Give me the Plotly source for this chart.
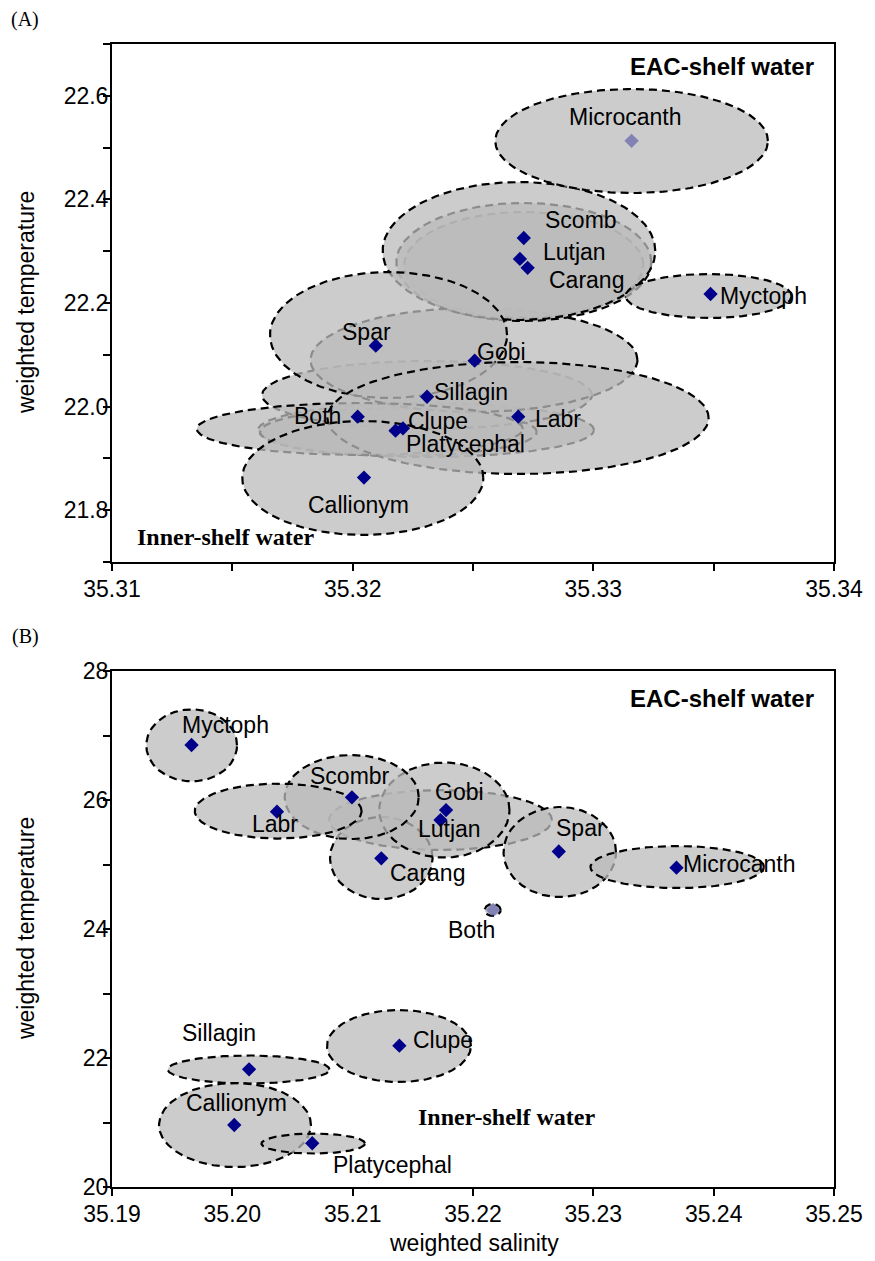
import numpy as np
import plotly.graph_objects as go

# ---------------- Panel A data ----------------
a_species = ["Microcanth", "Scomb", "Lutjan", "Carang", "Myctoph", "Spar", "Gobi",
             "Sillagin", "Both", "Clupe", "Platycephal", "Labr", "Callionym"]
a_sal = [35.33159, 35.32711, 35.32695, 35.32727, 35.33487, 35.32096, 35.32507,
         35.32309, 35.32021, 35.32209, 35.32178, 35.32688, 35.32047]
a_temp = [22.513, 22.3255, 22.285, 22.268, 22.2174, 22.1176, 22.0886,
          22.019, 21.9805, 21.958, 21.9535, 21.9805, 21.863]
a_ell_sal = [35.33159, 35.32691, 35.32711, 35.32711, 35.33479, 35.32149, 35.32504,
             35.32309, 35.3203, 35.32305, 35.3219, 35.32687, 35.32042]
a_ell_temp = [22.5127, 22.3004, 22.2792, 22.2734, 22.2135, 22.1382, 22.09,
              22.0224, 21.9568, 21.9548, 21.951, 21.978, 21.8622]
a_ell_sd_sal = [0.005664, 0.005664, 0.005294, 0.004966, 0.003447, 0.004925, 0.006792,
                0.006854, 0.006772, 0.006977, 0.005746, 0.00792, 0.005007]
a_ell_sd_temp = [0.1004, 0.1332, 0.1139, 0.1023, 0.0425, 0.1216, 0.1004,
                 0.0656, 0.0502, 0.0521, 0.0463, 0.1081, 0.11]
a_xticks = [35.31, 35.315, 35.32, 35.325, 35.33, 35.335, 35.34]
a_xticklabels = ["35.31", "", "35.32", "", "35.33", "", "35.34"]
a_yticks = [21.7, 21.8, 21.9, 22.0, 22.1, 22.2, 22.3, 22.4, 22.5, 22.6, 22.7]
a_yticklabels = ["", "21.8", "", "22.0", "", "22.2", "", "22.4", "", "22.6", ""]

# ---------------- Panel B data ----------------
b_species = ["Myctoph", "Labr", "Scombr", "Carang", "Gobi", "Lutjan", "Spar",
             "Microcanth", "Both", "Clupe", "Sillagin", "Callionym", "Platycephal"]
b_sal = [35.19661, 35.20371, 35.20994, 35.21238, 35.21776, 35.2173, 35.22713,
         35.23691, 35.22167, 35.21388, 35.20139, 35.20016, 35.20664]
b_temp = [26.853, 25.819, 26.042, 25.096, 25.845, 25.69, 25.202,
          24.951, 24.295, 22.191, 21.825, 20.961, 20.678]
b_ell_sal = [35.19662, 35.20381, 35.20992, 35.21238, 35.21762, 35.2173, 35.22721,
             35.23697, 35.22164, 35.21385, 35.20135, 35.20022, 35.20672]
b_ell_temp = [26.848, 25.829, 26.047, 25.101, 25.845, 25.69, 25.194,
              24.961, 24.295, 22.186, 21.822, 20.961, 20.674]
b_ell_sd_sal = [0.00377, 0.00693, 0.00557, 0.00426, 0.00541, 0.00926, 0.00467,
                0.00721, 0.00066, 0.00598, 0.00672, 0.00631, 0.0043]
b_ell_sd_temp = [0.558, 0.426, 0.651, 0.636, 0.736, 0.465, 0.698,
                 0.326, 0.093, 0.558, 0.217, 0.651, 0.155]
b_xticks = [35.19, 35.20, 35.21, 35.22, 35.23, 35.24, 35.25]
b_xticklabels = ["35.19", "35.20", "35.21", "35.22", "35.23", "35.24", "35.25"]
b_yticks = [20, 21, 22, 23, 24, 25, 26, 27, 28]
b_yticklabels = ["20", "", "22", "", "24", "", "26", "", "28"]

# ---------------- styling / layout helpers ----------------
SANS = "Liberation Sans, Arial, Helvetica, sans-serif"
SERIF = "Liberation Serif, Times New Roman, serif"
FILL = "rgba(187,187,187,0.75)"
EDGE = dict(color="black", width=2.2, dash="8px,5px")
NAVY = "#00008B"

# drawing order of ellipses (bottom -> top)
a_order = ["Clupe", "Platycephal", "Sillagin", "Gobi", "Carang", "Lutjan", "Scomb",
           "Spar", "Both", "Labr", "Callionym", "Myctoph", "Microcanth"]
b_order = ["Lutjan", "Carang", "Gobi", "Scombr", "Labr", "Spar", "Microcanth",
           "Myctoph", "Clupe", "Sillagin", "Callionym", "Platycephal", "Both"]

# label offsets (pixels) relative to each point
a_offsets = {"Microcanth": (-7, 24), "Scomb": (57, 18), "Lutjan": (55, 7),
             "Carang": (59, -12), "Myctoph": (53, -2), "Spar": (-9, 14),
             "Gobi": (27, 9), "Sillagin": (44, 5), "Both": (-40, 1),
             "Clupe": (35, 7), "Platycephal": (70, -13), "Labr": (40, -2),
             "Callionym": (-5, -27)}
b_offsets = {"Myctoph": (34, 20), "Labr": (-2, -12), "Scombr": (-2, 21),
             "Carang": (46, -15), "Gobi": (13, 18), "Lutjan": (9, -9),
             "Spar": (22, 23), "Microcanth": (63, 4), "Both": (-22, -20),
             "Clupe": (44, 6), "Sillagin": (-30, 36), "Callionym": (2, 22),
             "Platycephal": (80, -22)}
faded = {("A", "Microcanth"), ("B", "Both")}

t = np.linspace(0, 2 * np.pi, 241)

fig = go.Figure()


def add_panel(tag, species, sal, temp, esal, etemp, ssal, stemp, order, offsets, xa, ya):
    idx = {s: i for i, s in enumerate(species)}
    for s in order:
        i = idx[s]
        ex = esal[i] + ssal[i] * np.cos(t)
        ey = etemp[i] + stemp[i] * np.sin(t)
        fig.add_trace(go.Scatter(x=ex, y=ey, mode="lines", fill="toself",
                                 fillcolor=FILL, line=EDGE, hoverinfo="skip",
                                 showlegend=False, xaxis=xa, yaxis=ya))
    colors = ["rgba(70,70,160,0.55)" if (tag, s) in faded else NAVY for s in species]
    fig.add_trace(go.Scatter(x=sal, y=temp, mode="markers", text=species,
                             marker=dict(symbol="diamond", size=11, color=colors),
                             showlegend=False, xaxis=xa, yaxis=ya))
    xr = "x" if xa == "x" else "x2"
    yr = "y" if ya == "y" else "y2"
    for i, s in enumerate(species):
        dx, dy = offsets[s]
        fig.add_annotation(x=sal[i], y=temp[i], xref=xr, yref=yr, text=s,
                           showarrow=False, xshift=dx, yshift=dy,
                           xanchor="center", yanchor="middle",
                           font=dict(family=SANS, size=23, color="black"))


add_panel("A", a_species, a_sal, a_temp, a_ell_sal, a_ell_temp, a_ell_sd_sal,
          a_ell_sd_temp, a_order, a_offsets, "x", "y")
add_panel("B", b_species, b_sal, b_temp, b_ell_sal, b_ell_temp, b_ell_sd_sal,
          b_ell_sd_temp, b_order, b_offsets, "x2", "y2")

axis_common = dict(showline=True, linewidth=2, linecolor="black", mirror=True,
                   ticks="outside", ticklen=7, tickwidth=1.5, tickcolor="black",
                   showgrid=False, zeroline=False,
                   tickfont=dict(family=SANS, size=23, color="black"))

fig.update_layout(
    width=875, height=1261,
    margin=dict(l=112, r=31, t=44, b=74),
    paper_bgcolor="white", plot_bgcolor="white",
    showlegend=False,
    xaxis=dict(domain=[0, 1], anchor="y", range=[35.31, 35.34], tickmode="array",
               tickvals=a_xticks, ticktext=a_xticklabels, ticklabelstandoff=-2,
               **axis_common),
    yaxis=dict(domain=[0.5468, 1], anchor="x", range=[21.7, 22.7], tickmode="array",
               tickvals=a_yticks, ticktext=a_yticklabels, ticklabelstandoff=-10,
               **axis_common),
    xaxis2=dict(domain=[0, 1], anchor="y2", range=[35.19, 35.25], tickmode="array",
                tickvals=b_xticks, ticktext=b_xticklabels, ticklabelstandoff=-2,
                **axis_common),
    yaxis2=dict(domain=[0, 0.4514], anchor="x2", range=[20, 28], tickmode="array",
                tickvals=b_yticks, ticktext=b_yticklabels, ticklabelstandoff=-10,
                **axis_common),
)


def note(text, x, y, xref="paper", yref="paper", family=SANS, size=23, angle=0):
    fig.add_annotation(xref=xref, yref=yref, x=x, y=y, text=text, textangle=angle,
                       showarrow=False, xanchor="center", yanchor="middle",
                       font=dict(family=family, size=size, color="black"))


# panel letters
note("(A)", -0.12, 1.0215, family=SERIF, size=20)
note("(B)", -0.12, 0.482, family=SERIF, size=20)

# axis titles
note("weighted temperature", -0.119, 0.7734, angle=-90)
note("weighted temperature", -0.119, 0.2257, angle=-90)
note("weighted salinity", 0.5007, -0.049)

# water-mass annotations
note("<b>EAC-shelf water</b>", 0.8447, 0.9562, "x domain", "y domain", size=24)
note("<b>EAC-shelf water</b>", 0.845, 0.947, "x2 domain", "y2 domain", size=24)
note("<b>Inner-shelf water</b>", 0.1569, 0.0488, "x domain", "y domain", family=SERIF, size=24)
note("<b>Inner-shelf water</b>", 0.5458, 0.1362, "x2 domain", "y2 domain", family=SERIF, size=24)

fig.write_html("out.html")
